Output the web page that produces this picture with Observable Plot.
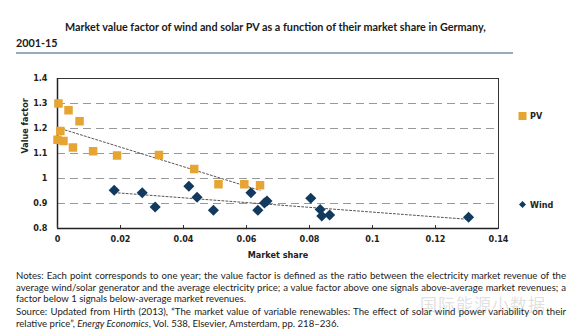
<!DOCTYPE html>
<html>
<head>
<meta charset="utf-8">
<script src="https://cdn.jsdelivr.net/npm/d3@7"></script>
<script src="https://cdn.jsdelivr.net/npm/@observablehq/plot@0.6"></script>
<style>
  html, body { margin: 0; padding: 0; background: #fff; }
  #wrap { position: relative; width: 576px; height: 335px; overflow: hidden; font-family: "Open Sans", sans-serif; color: #222; }
  .title { position: absolute; font-family: "Lato", sans-serif; font-weight: bold; font-size: 10.8px; color: #1a1a1a; white-space: nowrap; }
  #rule { position: absolute; left: 16px; top: 52px; width: 497px; height: 2px; background: #9aaabb; }
  #chart { position: absolute; left: 0; top: 60px; }
  .leg { position: absolute; font-family: "Liberation Sans Narrow", "DejaVu Sans Condensed", sans-serif; font-size: 9px; font-weight: bold; color: #222; display: flex; align-items: center; }
  #notes { position: absolute; left: 16px; top: 270px; width: 550px; font-family: "Lato", sans-serif; font-size: 9.6px; line-height: 11.6px; text-align: justify; color: #222; }
  #notes p { margin: 0 0 1.5px 0; }
  #wm { position: absolute; left: 420px; top: 291px; font-family: "Noto Sans CJK SC", sans-serif; font-size: 17px; color: rgba(150,150,150,0.3); letter-spacing: 1px; }
</style>
</head>
<body>
<div id="wrap">
  <div class="title" style="left:65px; top:20px;">Market value factor of wind and solar PV as a function of their market share in Germany,</div>
  <div class="title" style="left:16px; top:36px;">2001-15</div>
  <div id="rule"></div>
  <div id="chart"></div>
  <div class="leg" style="left:518px; top:111px;"><svg width="10" height="10" style="margin-right:2px"><rect x="0.5" y="1" width="8" height="8" fill="#E6A532"/></svg>PV</div>
  <div class="leg" style="left:518px; top:200px;"><svg width="10" height="10" style="margin-right:2px"><path d="M4.5,1 L8,4.5 L4.5,8 L1,4.5 Z" fill="#123A5E"/></svg>Wind</div>
  <div id="notes">
    <p>Notes: Each point corresponds to one year; the value factor is defined as the ratio between the electricity market revenue of the average wind/solar generator and the average electricity price; a value factor above one signals above-average market revenues; a factor below 1 signals below-average market revenues.</p>
    <p>Source: Updated from Hirth (2013), “The market value of variable renewables: The effect of solar wind power variability on their relative price”, <i>Energy Economics</i>, Vol. 538, Elsevier, Amsterdam, pp. 218–236.</p>
  </div>
  <div id="wm">国际能源小数据</div>
</div>
<script>
// Data
const pvShare = [0.0003, 0.0009, 0.0000, 0.0019, 0.0035, 0.0049, 0.0070, 0.0113, 0.0189, 0.0322, 0.0434, 0.0511, 0.0593, 0.0643];
const pvValue = [1.300, 1.190, 1.155, 1.150, 1.273, 1.124, 1.229, 1.109, 1.092, 1.094, 1.038, 0.977, 0.977, 0.973];
const windShare = [0.0180, 0.0269, 0.0310, 0.0417, 0.0443, 0.0495, 0.0614, 0.0636, 0.0657, 0.0665, 0.0804, 0.0834, 0.0839, 0.0864, 0.1305];
const windValue = [0.953, 0.943, 0.886, 0.969, 0.925, 0.873, 0.943, 0.873, 0.902, 0.910, 0.921, 0.876, 0.850, 0.854, 0.845];
const xTicks = [0, 0.02, 0.04, 0.06, 0.08, 0.1, 0.12, 0.14];
const yTicks = [0.8, 0.9, 1, 1.1, 1.2, 1.3, 1.4];
const gridY = [0.9, 1, 1.1, 1.2, 1.3];

const pv = pvShare.map((s, i) => ({share: s, value: pvValue[i]}));
const wind = windShare.map((s, i) => ({share: s, value: windValue[i]}));

const fmt = d => d === 0 ? "0" : String(d);
const chart = Plot.plot({
  width: 576,
  height: 208,
  marginTop: 18,
  marginBottom: 40,
  marginLeft: 57,
  marginRight: 78,
  style: {fontFamily: "'Liberation Sans Narrow', 'DejaVu Sans Condensed', sans-serif", fontSize: "9px", color: "#222", background: "transparent"},
  x: {domain: [0, 0.14], ticks: xTicks, tickFormat: fmt, label: null},
  y: {domain: [0.8, 1.4], ticks: yTicks, tickFormat: fmt, label: null},
  marks: [
    Plot.ruleY(gridY, {stroke: "#999", strokeWidth: 1, strokeDasharray: "8,5"}),
    Plot.frame({stroke: "#333", strokeWidth: 1}),
    Plot.ruleX([0], {stroke: "#222", strokeWidth: 1.5}),
    Plot.ruleY([0.8], {stroke: "#222", strokeWidth: 1.5}),
    Plot.axisX({ticks: xTicks, tickFormat: fmt, tickSize: -3, tickPadding: 10, stroke: "#333", fontWeight: "bold", label: null}),
    Plot.axisY({ticks: yTicks, tickFormat: fmt, tickSize: 0, tickPadding: 10, fontWeight: "bold", label: null}),
    Plot.text(["Market share"], {frameAnchor: "bottom", dy: 29, fontWeight: "bold", fontSize: 9}),
    Plot.text(["Value factor"], {frameAnchor: "left", dx: -32, rotate: -90, fontWeight: "bold", fontSize: 9}),
    Plot.linearRegressionY(pv, {x: "share", y: "value", ci: 0, stroke: "#555", strokeWidth: 1, strokeDasharray: "2,2"}),
    Plot.linearRegressionY(wind, {x: "share", y: "value", ci: 0, stroke: "#555", strokeWidth: 1, strokeDasharray: "2,2"}),
    Plot.dot(pv, {x: "share", y: "value", symbol: "square", r: 4.8, fill: "#E6A532", stroke: "none"}),
    Plot.dot(wind, {x: "share", y: "value", symbol: "diamond2", r: 5, fill: "#123A5E", stroke: "none"})
  ]
});
document.getElementById("chart").appendChild(chart);
</script>
</body>
</html>
